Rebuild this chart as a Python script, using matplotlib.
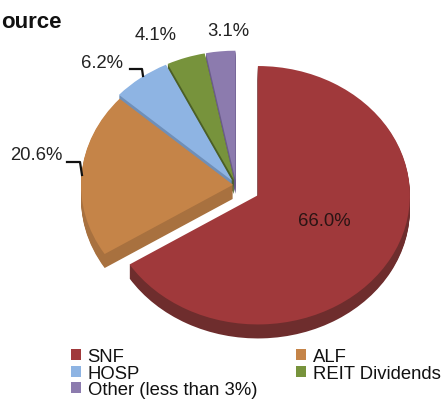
import matplotlib
matplotlib.use("Agg")
import matplotlib.pyplot as plt

plt.rcParams["font.family"] = ["Liberation Sans", "DejaVu Sans"]

# data
categories = ["SNF", "ALF", "HOSP", "REIT Dividends", "Other (less than 3%)"]
shares = [66.0, 20.6, 6.2, 4.1, 3.1]
top_colors = ["#A0393B", "#C58448", "#8EB4E3", "#77933C", "#8C7BAE"]
side_colors = ["#6E2D2D", "#A8713F", "#6F8FB8", "#4B5F26", "#6A5B8A"]
explode = [25, 3, 6, 6, 6]  # offsets in data units (pixels)

W, H = 443, 410
S = 0.85          # vertical squash of the tilted pie
R = 152           # radius in pixels
CX, CY = 236, 186  # pie centre, pixels from top-left
DEPTH = 14


def fy(py):
    return (H - py) / S


fig = plt.figure(figsize=(W / 100, H / 100), dpi=100)
ax = fig.add_axes([0, 0, 1, 1])

# side of the pie: stacked darker copies
for k in range(DEPTH, 0, -1):
    ax.pie(shares, colors=side_colors, startangle=90, counterclock=False,
           explode=explode, radius=R, center=(CX, fy(CY + k)),
           wedgeprops=dict(linewidth=0))

wedges, _ = ax.pie(shares, colors=top_colors, startangle=90, counterclock=False,
                   explode=explode, radius=R, center=(CX, fy(CY)),
                   wedgeprops=dict(linewidth=0))

ax.set_xlim(0, W)
ax.set_ylim(0, H / S)
ax.set_aspect("auto")
ax.axis("off")

# percentage labels
label_pos = [(324, 222), (36, 156), (102, 64), (156, 35), (228, 32)]
label_colors = ["#2a1414", "#222222", "#222222", "#222222", "#222222"]
for v, (px, py), c in zip(shares, label_pos, label_colors):
    fig.text(px / W, 1 - py / H, f"{v:.1f}%", fontsize=13.3, color=c,
             ha="center", va="center")

# leader lines
leaders = [
    ([67, 80, 82], [163, 163, 176]),
    ([130, 142, 143], [70, 70, 77]),
]
for xs, ys in leaders:
    ax.plot(xs, [fy(y) for y in ys], color="#111111", lw=1.6)

# cropped title
fig.text(1 / W, 1 - 22 / H, "ource", fontsize=16, fontweight="bold",
         ha="left", va="center", color="#111111")

order = [0, 2, 4, 1, 3]
fig.legend([wedges[i] for i in order], [categories[i] for i in order],
           ncol=2, loc="upper left", bbox_to_anchor=(71 / W, 1 - 349 / H),
           frameon=False, fontsize=13.3, handlelength=0.55, handleheight=0.55,
           handletextpad=0.35, columnspacing=2.1, labelspacing=-0.02,
           borderpad=0, borderaxespad=0, labelcolor="#111111")

fig.savefig("out.png", dpi=100)
